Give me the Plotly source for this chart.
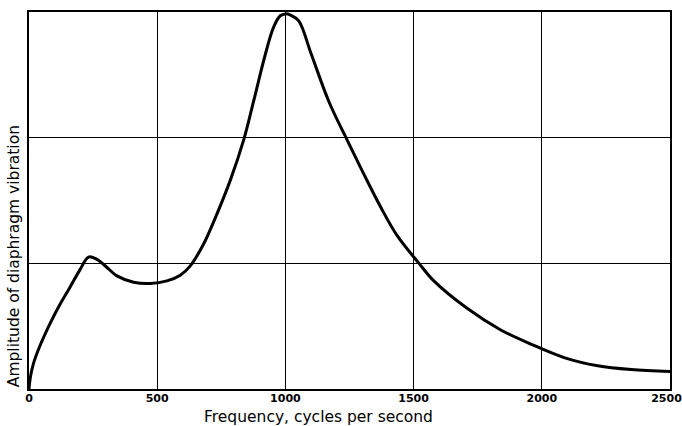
import plotly.graph_objects as go

# Frequency response of a telephone receiver diaphragm
freq = [0, 5, 17, 40, 82, 120, 160, 199, 232, 262, 300, 343, 408, 473, 538,
        590, 629, 680, 720, 785, 837, 876, 920, 954, 980, 1000, 1020, 1052,
        1100, 1169, 1241, 1306, 1371, 1436, 1521, 1579, 1710, 1840, 1960,
        2087, 2218, 2348, 2500]
amplitude = [0, 0.09, 0.20, 0.33, 0.52, 0.67, 0.81, 0.95, 1.05, 1.035, 0.975,
             0.90, 0.85, 0.84, 0.86, 0.905, 0.98, 1.15, 1.33, 1.66, 1.98, 2.29,
             2.65, 2.88, 2.97, 2.985, 2.975, 2.93, 2.67, 2.29, 1.98, 1.71, 1.45,
             1.22, 1.0, 0.86, 0.64, 0.47, 0.355, 0.25, 0.185, 0.155, 0.14]

x_ticks = [0, 500, 1000, 1500, 2000, 2500]
x_tick_labels = ["0", "500", "1000", "1500", "2000", "2500"]
y_grid = [0, 1, 2, 3]

FONT = "DejaVu Sans, sans-serif"

# last label nudged inward so it stays inside the page
tick_text = ["<b>%s</b>" % t for t in x_tick_labels]
tick_text[-1] = tick_text[-1] + "&nbsp;&nbsp;"

fig = go.Figure()
fig.add_trace(go.Scatter(
    x=freq, y=amplitude, mode="lines",
    line=dict(color="black", width=3, shape="spline", smoothing=1.0),
    hoverinfo="skip", showlegend=False,
))

fig.update_layout(
    width=682, height=426,
    margin=dict(l=29, r=12, t=12, b=37, autoexpand=False),
    paper_bgcolor="white", plot_bgcolor="white",
    font=dict(family=FONT, color="black"),
    xaxis=dict(
        range=[0, 2500], tickvals=x_ticks, ticktext=tick_text,
        showgrid=True, gridcolor="black", gridwidth=1,
        showline=True, linecolor="black", linewidth=2, mirror=True,
        ticks="", zeroline=False, ticklabelstandoff=-2,
        ticklabeloverflow="allow", automargin=False,
        tickfont=dict(family=FONT, size=11, color="black"),
    ),
    yaxis=dict(
        range=[0, 3], tickvals=y_grid, showticklabels=False,
        showgrid=True, gridcolor="black", gridwidth=1,
        showline=True, linecolor="black", linewidth=2, mirror=True,
        ticks="", zeroline=False, automargin=False,
    ),
    annotations=[
        dict(text="Frequency, cycles per second", xref="paper", yref="paper",
             x=0.451, y=-0.0745, xanchor="center", yanchor="middle",
             showarrow=False, font=dict(family=FONT, size=15.5, color="black")),
        dict(text="Amplitude of diaphragm vibration", xref="paper", yref="paper",
             x=-0.023, y=0.353, xanchor="center", yanchor="middle", textangle=-90,
             showarrow=False, font=dict(family=FONT, size=15.5, color="black")),
    ],
)

fig.write_html("out.html")
